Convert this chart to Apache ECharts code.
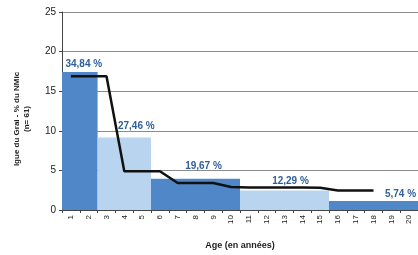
<!DOCTYPE html>
<html>
<head>
<meta charset="utf-8">
<script src="https://cdn.jsdelivr.net/npm/echarts@6/dist/echarts.min.js"></script>
<style>
  html, body { margin: 0; padding: 0; background: #fff; }
  #chart { width: 418px; height: 255px; }
</style>
</head>
<body>
<div id="chart"></div>
<script>
// ages 1..20
const ages = ['1', '2', '3', '4', '5', '6', '7', '8', '9', '10',
  '11', '12', '13', '14', '15', '16', '17', '18', '19', '20'];
// tranches d'age : premier et dernier index de categorie
const groupStart = [0, 2, 5, 10, 15];
const groupEnd = [1, 4, 9, 14, 19];
// hauteur des barres (% par annee)
const groupValues = [17.42, 9.15, 3.93, 2.46, 1.15];
const groupLabels = ['34,84 %', '27,46 %', '19,67 %', '12,29 %', '5,74 %'];
// courbe noire
const lineValues = [16.9, 16.9, 16.9, 4.9, 4.9, 4.9, 3.4, 3.4, 3.4, 2.9,
  2.85, 2.85, 2.85, 2.85, 2.8, 2.45, 2.45, 2.45, null, null];
const yTicks = [0, 5, 10, 15, 20, 25];

// styles
const barColors = ['#4f87c8', '#b9d4ee'];
const labelDx = [4, 12, 8, 6, 27]; // decalage horizontal des etiquettes
const labelDy = [-8, -11, -13, -9, -7];

const chart = echarts.init(document.getElementById('chart'));

const option = {
  animation: false,
  textStyle: { fontFamily: 'Liberation Sans, Arial, sans-serif' },
  grid: { left: 62, right: 0, top: 12, bottom: 45 },
  xAxis: {
    type: 'category',
    data: ages,
    name: 'Age (en années)',
    nameLocation: 'middle',
    nameGap: 31,
    nameTextStyle: { fontSize: 9, fontWeight: 'bold', color: '#222' },
    axisLine: { lineStyle: { color: '#444', width: 1 } },
    axisTick: { show: true, interval: 0, length: 3, lineStyle: { color: '#444' } },
    axisLabel: { interval: 0, rotate: 90, fontSize: 8, color: '#222', margin: 5 },
  },
  yAxis: {
    type: 'value',
    min: yTicks[0],
    max: yTicks[yTicks.length - 1],
    interval: 5,
    name: 'lgue du Grai - % du NMic\n(n= 61)',
    nameLocation: 'middle',
    nameRotate: 90,
    nameGap: 30,
    nameTextStyle: { fontSize: 8, fontWeight: 'bold', color: '#222', lineHeight: 10, padding: [0, 0, 0, -16] },
    axisLine: { show: true, lineStyle: { color: '#444', width: 1 } },
    axisTick: { show: true, length: 3, lineStyle: { color: '#444' } },
    axisLabel: { fontSize: 10, color: '#222', margin: 6 },
    splitLine: { lineStyle: { color: '#8c8c8c', width: 1 } },
  },
  series: [
    {
      type: 'custom',
      data: groupValues.map((v, i) => [groupStart[i], groupEnd[i], v, i]),
      encode: { x: [0, 1], y: 2 },
      renderItem(params, api) {
        const i = api.value(3);
        const band = api.size([1, 0])[0];
        const topLeft = api.coord([api.value(0), api.value(2)]);
        const right = api.coord([api.value(1), 0]);
        const x0 = topLeft[0] - band / 2;
        const x1 = right[0] + band / 2;
        const yTop = topLeft[1];
        const yBase = right[1];
        return {
          type: 'group',
          children: [
            {
              type: 'rect',
              shape: { x: x0, y: yTop, width: x1 - x0, height: yBase - yTop },
              style: { fill: barColors[i % 2] },
            },
            {
              type: 'text',
              style: {
                x: (x0 + x1) / 2 + labelDx[i],
                y: yTop + labelDy[i],
                text: groupLabels[i],
                fill: '#2f5f9a',
                font: 'bold 10px Liberation Sans, Arial, sans-serif',
                align: 'center',
                verticalAlign: 'middle',
              },
            },
          ],
        };
      },
      z: 2,
    },
    {
      type: 'line',
      data: lineValues,
      showSymbol: false,
      symbol: 'none',
      lineStyle: { color: '#111', width: 2.5 },
      z: 3,
    },
  ],
};

chart.setOption(option);
</script>
</body>
</html>
